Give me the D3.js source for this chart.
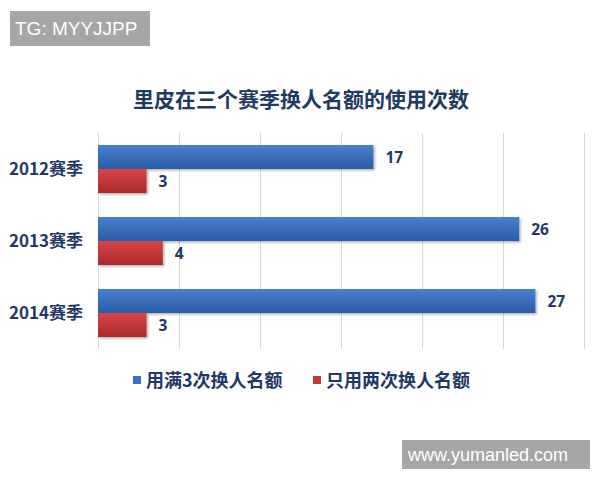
<html>
<head>
	<meta charset="utf-8">
	<script src="https://d3js.org/d3.v7.min.js"></script>
</head>
<body style="margin:0; padding:0; background:#fff;">
	<script>
	// data
	var seasons = ["2012赛季", "2013赛季", "2014赛季"];
	var seriesNames = ["用满3次换人名额", "只用两次换人名额"];
	var fullUse = [17, 26, 27];
	var twoUse = [3, 4, 3];
	var xTicks = [0, 5, 10, 15, 20, 25, 30];

	var width = 600, height = 480;
	// note: "top" is taken by window.top, so plot* names
	var plotLeft = 98, plotRight = 584, plotTop = 133, plotBottom = 349;
	var navy = "#1f3864";
	var cjk = "'Noto Sans CJK SC', 'Noto Sans', sans-serif";

	var svg = d3.select("body").append("svg")
		.attr("width", width)
		.attr("height", height);

	var defs = svg.append("defs");
	function grad(id, c1, c2) {
		var g = defs.append("linearGradient").attr("id", id)
			.attr("x1", 0).attr("y1", 0).attr("x2", 0).attr("y2", 1);
		g.append("stop").attr("offset", "0%").attr("stop-color", c1);
		g.append("stop").attr("offset", "100%").attr("stop-color", c2);
	}
	grad("gBlue", "#4780d2", "#2c5ba6");
	grad("gRed", "#d94444", "#a92a2c");
	var f = defs.append("filter").attr("id", "shadow")
		.attr("x", "-5%").attr("y", "-20%").attr("width", "115%").attr("height", "160%");
	f.append("feDropShadow").attr("dx", 1.5).attr("dy", 1.5).attr("stdDeviation", 1.2)
		.attr("flood-color", "#000").attr("flood-opacity", 0.3);

	var x = d3.scaleLinear().domain([0, 30]).range([plotLeft, plotRight]);
	var y = d3.scaleBand().domain(seasons).range([plotTop, plotBottom])
		.paddingInner(1 / 3).paddingOuter(1 / 6);
	var ySub = d3.scaleBand().domain(seriesNames).range([0, y.bandwidth()]);

	// grid lines
	svg.append("g")
		.attr("transform", "translate(0," + plotBottom + ")")
		.call(d3.axisBottom(x).tickValues(xTicks).tickSize(-(plotBottom - plotTop)).tickFormat(""))
		.call(function (g) {
			g.select(".domain").remove();
			g.selectAll("line").attr("stroke", "#d9d9d9").attr("stroke-width", 1);
		});

	// title
	svg.append("text")
		.attr("x", 301).attr("y", 107)
		.attr("text-anchor", "middle")
		.style("font-family", cjk).style("font-size", "21px").style("font-weight", "bold")
		.style("fill", "#1f3a60")
		.text("里皮在三个赛季换人名额的使用次数");

	// category labels
	svg.selectAll(".cat").data(seasons).enter().append("text")
		.attr("class", "cat")
		.attr("x", 83)
		.attr("y", function (d) { return y(d) + y.bandwidth() / 2 + 6; })
		.attr("text-anchor", "end")
		.style("font-family", cjk).style("font-size", "17px").style("font-weight", "bold")
		.style("fill", navy)
		.text(function (d) { return d; });

	var rows = [];
	seasons.forEach(function (s, i) {
		rows.push({ cat: s, key: seriesNames[0], v: fullUse[i], fill: "url(#gBlue)" });
		rows.push({ cat: s, key: seriesNames[1], v: twoUse[i], fill: "url(#gRed)" });
	});

	svg.selectAll(".bar").data(rows).enter().append("rect")
		.attr("class", "bar")
		.attr("x", x(0))
		.attr("y", function (d) { return y(d.cat) + ySub(d.key); })
		.attr("width", function (d) { return x(d.v) - x(0); })
		.attr("height", ySub.bandwidth())
		.attr("fill", function (d) { return d.fill; })
		.attr("filter", "url(#shadow)");

	svg.selectAll(".val").data(rows).enter().append("text")
		.attr("class", "val")
		.attr("x", function (d) { return x(d.v) + 12; })
		.attr("y", function (d) { return y(d.cat) + ySub(d.key) + ySub.bandwidth() / 2 + 5.5; })
		.style("font-family", "'Open Sans', 'DejaVu Sans', sans-serif")
		.style("font-size", "15.5px").style("font-weight", "bold")
		.style("fill", navy)
		.text(function (d) { return d.v; });

	// legend
	var legendX = [133, 313];
	var legendCol = ["#3a6ec2", "#c0373a"];
	var lg = svg.selectAll(".lg").data(seriesNames).enter().append("g")
		.attr("class", "lg")
		.attr("transform", function (d, i) { return "translate(" + legendX[i] + ",380)"; });
	lg.append("rect").attr("x", 0).attr("y", -4).attr("width", 8).attr("height", 8)
		.attr("fill", function (d, i) { return legendCol[i]; });
	lg.append("text").attr("x", 13).attr("y", 6.5)
		.style("font-family", cjk).style("font-size", "18px").style("font-weight", "bold")
		.style("fill", navy)
		.text(function (d) { return d; });

	// watermarks
	svg.append("rect").attr("x", 10).attr("y", 11).attr("width", 140).attr("height", 35).attr("fill", "#a6a6a6");
	svg.append("text").attr("x", 15).attr("y", 35)
		.style("font-family", "'Liberation Sans', Arial, sans-serif").style("font-size", "19px")
		.style("fill", "#fff").text("TG: MYYJJPP");
	svg.append("rect").attr("x", 402).attr("y", 440).attr("width", 188).attr("height", 29).attr("fill", "#a6a6a6");
	svg.append("text").attr("x", 408).attr("y", 461)
		.style("font-family", "'Liberation Sans', Arial, sans-serif").style("font-size", "18px")
		.style("fill", "#fff").text("www.yumanled.com");
	</script>
</body>
</html>
